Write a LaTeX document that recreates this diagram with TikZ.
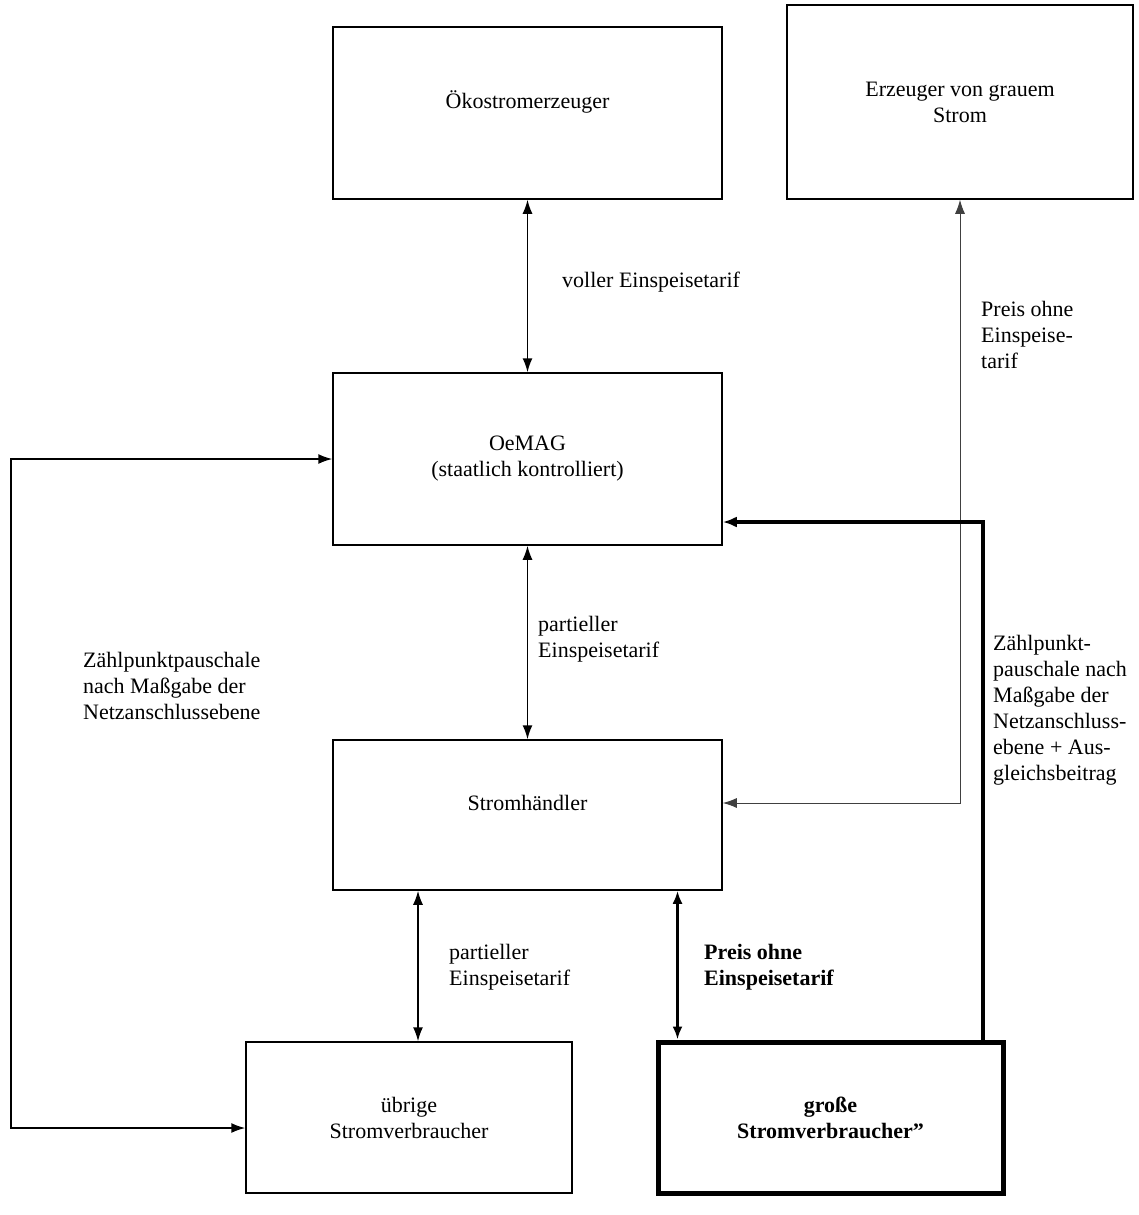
\documentclass[tikz,border=0pt]{standalone}
\usepackage{fontspec}
\setmainfont{Liberation Serif}
\usetikzlibrary{arrows.meta,calc}
\begin{document}
\begin{tikzpicture}[x=1pt,y=-1pt,
  box/.style={draw,line width=1.5pt,rectangle,align=center,inner sep=0pt,font=\fontsize{22}{26}\selectfont},
  lbl/.style={anchor=west,align=left,inner sep=0pt,font=\fontsize{22}{26}\selectfont},
  conn/.style={line width=1.5pt,{Latex[length=14pt,width=10pt]}-{Latex[length=14pt,width=10pt]}},
  raised/.style={text height=15pt,text depth=25pt}]
\useasboundingbox (0,0) rectangle (1138,1215);
\fill[white] (0,0) rectangle (1138,1215);

\node[box,raised,minimum width=389pt,minimum height=172pt] (oeko) at (527.5,113) {Ökostromerzeuger};
\node[box,minimum width=346pt,minimum height=194pt] (erz) at (960,102) {Erzeuger von grauem\\Strom};
\node[box,minimum width=389pt,minimum height=172pt] (oemag) at (527.5,459) {OeMAG\\(staatlich kontrolliert)};
\node[box,raised,minimum width=389pt,minimum height=150pt] (strom) at (527.5,815) {Stromhändler};
\node[box,minimum width=326pt,minimum height=151pt] (ueb) at (409,1117.5) {übrige\\Stromverbraucher};
\node[box,line width=5pt,minimum width=345pt,minimum height=151pt,font=\fontsize{22}{26}\selectfont\bfseries] (gross) at (830.5,1117.5) {große\\Stromverbraucher”};

\coordinate (L) at (11,0);

% vertical double arrows
\draw[conn] (oeko.south) -- (oemag.north);
\draw[conn] (oemag.south) -- (strom.north);
\coordinate (u1) at ([xshift=9pt]ueb.north);
\draw[conn] (strom.south -| u1) -- (u1);
\coordinate (g1) at ([xshift=22pt]gross.north west);
\draw[line width=3.5pt,{Latex[length=13pt,width=10pt]}-{Latex[length=13pt,width=10pt]}] (strom.south -| g1) -- (g1);

% left loop
\draw[conn] (oemag.west) -- (oemag.west -| L) -- ([yshift=-10.5pt]ueb.west -| L) -- ([yshift=-10.5pt]ueb.west);

% grey price line
\draw[conn,line width=1pt,black!75] ([yshift=12pt]strom.east) -| (erz.south);

% thick line
\coordinate (g2) at ([xshift=-23pt]gross.north east);
\draw[line width=4pt,-{Latex[length=14pt,width=11pt]}] (g2) |- ([yshift=-63pt]oemag.east);

% labels
\node[lbl] (l1) at (562,282) {voller Einspeisetarif};
\node[lbl] (l2) at (538,639) {partieller\\Einspeisetarif};
\node[lbl] (l3) at (449,967) {partieller\\Einspeisetarif};
\node[lbl,font=\fontsize{22}{26}\selectfont\bfseries] (l4) at (704,967) {Preis ohne\\Einspeisetarif};
\node[lbl] (l5) at (83,686) {Zählpunktpauschale\\nach Maßgabe der\\Netzanschlussebene};
\node[lbl] (l6) at (981,335) {Preis ohne\\Einspeise-\\tarif};
\node[lbl] (l7) at (993,710) {Zählpunkt-\\pauschale nach\\Maßgabe der\\Netzanschluss-\\ebene + Aus-\\gleichsbeitrag};
\end{tikzpicture}
\end{document}
